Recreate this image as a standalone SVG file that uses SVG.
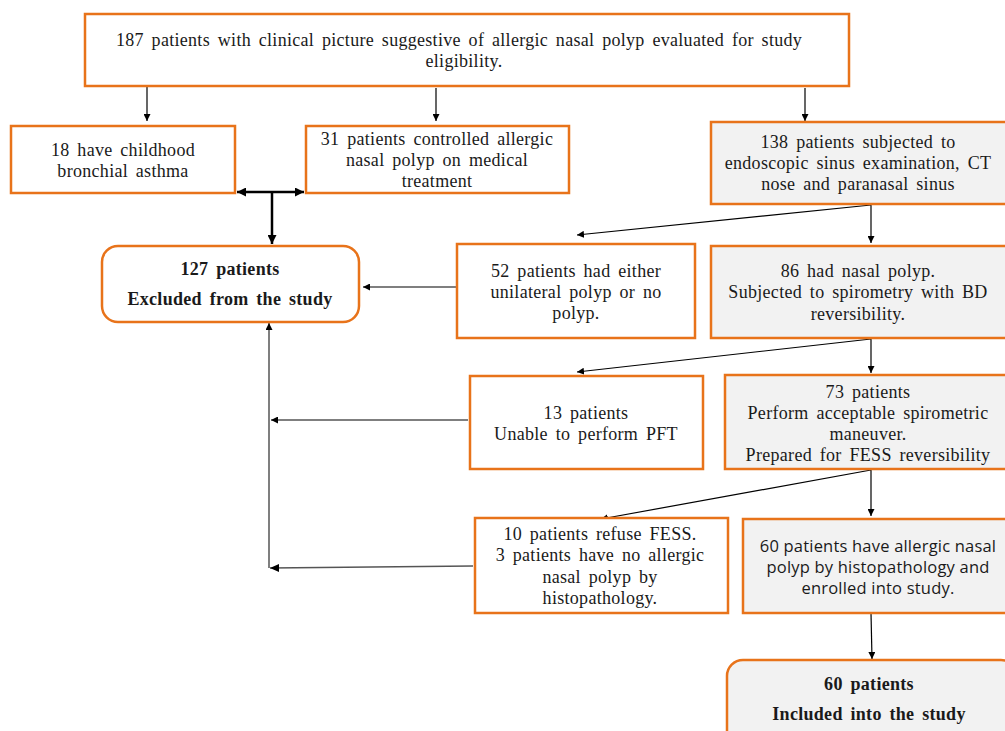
<svg xmlns="http://www.w3.org/2000/svg" width="1005" height="731" viewBox="0 0 1005 731">
<style>
.box{fill:#fff;stroke:#E8731A;stroke-width:2.5}
.gbox{fill:#F2F2F2;stroke:#E8731A;stroke-width:2.5}
.t{font-family:"Liberation Serif","Times New Roman",serif;font-size:18px;letter-spacing:0.3px;word-spacing:3px;fill:#1a1a1a;text-anchor:middle}
.b{font-weight:bold}
.s{font-family:"Open Sans","Liberation Sans",Arial,sans-serif;font-size:16.5px;letter-spacing:0.2px;fill:#1a1a1a;text-anchor:middle}
.c{fill:none;stroke:#000;stroke-width:1.2}
.g{fill:none;stroke:#555;stroke-width:1.5}
.k{fill:none;stroke:#000;stroke-width:2.5}
</style>
<defs>
<marker id="a" viewBox="0 0 10 10" refX="10" refY="5" markerWidth="7" markerHeight="7" markerUnits="userSpaceOnUse" orient="auto"><path d="M0,0L10,5L0,10z" fill="#000"/></marker>
<marker id="ab" viewBox="0 0 10 10" refX="10" refY="5" markerWidth="12" markerHeight="9" markerUnits="userSpaceOnUse" orient="auto-start-reverse"><path d="M0,0L10,5L0,10z" fill="#000"/></marker>
</defs>
<g id="connectors">
<path class="c" d="M147,87V121" marker-end="url(#a)"/>
<path class="c" d="M436,88V121" marker-end="url(#a)"/>
<path class="c" d="M805,88V121" marker-end="url(#a)"/>
<path class="k" d="M237,192H304" marker-start="url(#ab)" marker-end="url(#ab)"/>
<path class="k" d="M272,192V244" marker-end="url(#ab)"/>
<path class="c" d="M871,205L577,235" marker-end="url(#a)"/>
<path class="c" d="M871,205V243" marker-end="url(#a)"/>
<path class="c" d="M457,287H363" marker-end="url(#a)"/>
<path class="c" d="M871,339L577,372" marker-end="url(#a)"/>
<path class="c" d="M871,339V373" marker-end="url(#a)"/>
<path class="g" d="M468,420H271" marker-end="url(#a)"/>
<path class="g" d="M473,566L270,568"/>
<path class="g" d="M269,568V323" marker-end="url(#a)"/>
<path class="c" d="M871,470L601,519" marker-end="url(#a)"/>
<path class="c" d="M871,470V516" marker-end="url(#a)"/>
<path class="c" d="M871,613L872,659" marker-end="url(#a)"/>
<path d="M270,568L279,564L279,572z" fill="#000"/>
</g>
<g id="n1"><rect class="box" x="85" y="14" width="764" height="72"/>
<text class="t" x="459" y="46">187 patients with clinical picture suggestive of allergic nasal polyp evaluated for study</text>
<text class="t" x="464" y="67">eligibility.</text></g>
<g id="n2"><rect class="box" x="11" y="126" width="224" height="67"/>
<text class="t" x="123" y="156">18 have childhood</text>
<text class="t" x="123" y="177">bronchial asthma</text></g>
<g id="n3"><rect class="box" x="306" y="126" width="263" height="67"/>
<text class="t" x="437" y="145">31 patients controlled allergic</text>
<text class="t" x="437" y="166">nasal polyp on medical</text>
<text class="t" x="437" y="187">treatment</text></g>
<g id="n4"><rect class="box" x="102" y="246" width="257" height="76" rx="16"/>
<text class="t b" x="230" y="275">127 patients</text>
<text class="t b" x="230" y="305">Excluded from the study</text></g>
<g id="n5"><rect class="gbox" x="711" y="122" width="300" height="82"/>
<text class="t" x="858" y="148">138 patients subjected  to</text>
<text class="t" x="858" y="169">endoscopic sinus examination, CT</text>
<text class="t" x="858" y="190">nose and paranasal sinus</text></g>
<g id="n6"><rect class="box" x="457" y="244" width="238" height="94"/>
<text class="t" x="576" y="277">52 patients had either</text>
<text class="t" x="576" y="298">unilateral polyp or no</text>
<text class="t" x="576" y="319">polyp.</text></g>
<g id="n7"><rect class="gbox" x="711" y="246" width="300" height="92"/>
<text class="t" x="858" y="277">86 had nasal polyp.</text>
<text class="t" x="858" y="298">Subjected to spirometry with BD</text>
<text class="t" x="858" y="320">reversibility.</text></g>
<g id="n8"><rect class="box" x="470" y="376" width="233" height="93"/>
<text class="t" x="586" y="419">13 patients</text>
<text class="t" x="586" y="440">Unable to perform PFT</text></g>
<g id="n9"><rect class="gbox" x="725" y="375" width="286" height="94"/>
<text class="t" x="868" y="398">73 patients</text>
<text class="t" x="868" y="419">Perform acceptable spirometric</text>
<text class="t" x="868" y="440">maneuver.</text>
<text class="t" x="868" y="461">Prepared for FESS reversibility</text></g>
<g id="n10"><rect class="box" x="475" y="518" width="253" height="95"/>
<text class="t" x="600" y="540">10 patients refuse FESS.</text>
<text class="t" x="600" y="561">3 patients have no allergic</text>
<text class="t" x="600" y="583">nasal polyp by</text>
<text class="t" x="600" y="604">histopathology.</text></g>
<g id="n11"><rect class="gbox" x="743" y="519" width="268" height="94"/>
<text class="s" x="878" y="552">60 patients have allergic nasal</text>
<text class="s" x="878" y="573">polyp by histopathology and</text>
<text class="s" x="878" y="594">enrolled into study.</text></g>
<g id="n12"><rect class="gbox" x="727" y="660" width="290" height="90" rx="16"/>
<text class="t b" x="869" y="690">60  patients</text>
<text class="t b" x="869" y="720">Included into the study</text></g>
</svg>
